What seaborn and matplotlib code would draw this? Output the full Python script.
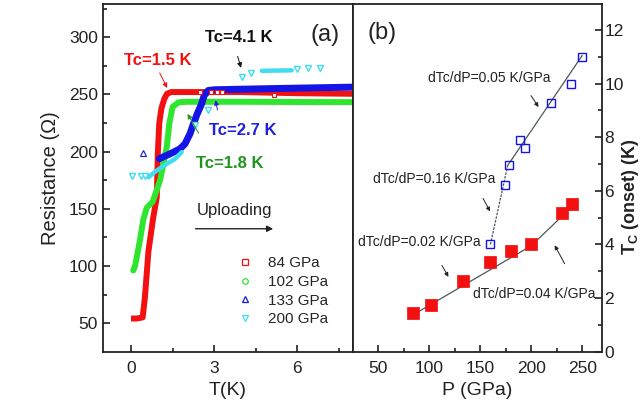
import matplotlib
matplotlib.use("Agg")
import matplotlib.pyplot as plt
import seaborn as sns
from matplotlib.lines import Line2D

# ---------------- Panel (a): resistance vs temperature ----------------
t84 = [0.0, 0.2, 0.42, 0.5, 0.63, 0.8, 0.93, 0.97, 1.02, 1.1, 1.2, 1.3, 1.45, 2.0, 4.0, 6.0, 8.0]
r84 = [54, 54, 55, 72, 113, 142, 160, 200, 225, 238, 246, 250.5, 252, 252, 252, 251, 250.5]
t84_pts = [2.5, 2.9, 3.1, 3.3, 5.16]
r84_pts = [252, 252, 252, 252, 249.5]

t102 = [0.08, 0.15, 0.32, 0.44, 0.57, 0.78, 1.05, 1.29, 1.38, 1.5, 1.71, 2.0, 4.0, 6.0, 8.0]
r102 = [96, 100.4, 122, 140, 151, 156, 175, 204, 224, 239, 243, 243.5, 243.5, 243.3, 243.2]

t133 = [1.02, 1.41, 1.77, 1.95, 2.13, 2.25, 2.39, 2.55, 2.64, 2.79, 3.0, 5.0, 8.0]
r133 = [193.7, 198, 202.4, 206.8, 215.6, 224, 233, 241.8, 249, 253.4, 254, 255, 256.3]
t133_pts = [0.44]
r133_pts = [198.6]

t200_band1 = [0.63, 0.93, 1.29, 1.59, 1.83]
r200_band1 = [177.6, 183.4, 189.2, 193.6, 199.5]
t200_band2 = [4.72, 5.8]
r200_band2 = [270.6, 271.0]
t200_pts = [0.02, 0.36, 0.5, 2.31, 2.79, 4.0, 4.32, 5.98, 6.38, 6.82]
r200_pts = [179, 179, 179, 222.8, 236, 265, 268.5, 272.4, 273, 273.2]

legend_labels = ["84 GPa", "102 GPa", "133 GPa", "200 GPa"]

# ---------------- Panel (b): Tc(onset) vs pressure ----------------
p_blue = [160, 174, 178, 189, 194, 219, 239, 249.5]
tc_blue = [4.0, 6.22, 6.97, 7.9, 7.6, 9.29, 10.0, 11.0]
p_red = [84, 102, 133, 160, 180, 200, 230, 240]
tc_red = [1.44, 1.75, 2.62, 3.34, 3.75, 4.0, 5.19, 5.5]
tc_red_err = [0.18, 0.18, 0.18, 0.18, 0.18, 0.18, 0.18, 0.18]
p_red_err = [3, 3, 3, 3, 3, 3, 3, 3]
fit_blue_dash_p = [160, 177]
fit_blue_dash_tc = [4.0, 6.95]
fit_blue_p = [177, 250]
fit_blue_tc = [6.95, 11.05]
fit_red_p = [84, 200, 244]
fit_red_tc = [1.37, 3.95, 5.56]

RED = "#f21010"
GREEN = "#2ee62e"
BLUE = "#1414e6"
CYAN = "#40dcf0"

sns.set_theme(style="ticks")
plt.rcParams["font.family"] = ["Liberation Sans", "DejaVu Sans"]
plt.rcParams["mathtext.fontset"] = "custom"
plt.rcParams["mathtext.rm"] = "Liberation Sans"
plt.rcParams["mathtext.bf"] = "Liberation Sans:bold"

fig = plt.figure(figsize=(6.4, 4.2), dpi=100)
ax1 = fig.add_axes([0.1614, 0.1626, 0.3897, 0.8279])
ax2 = fig.add_axes([0.551, 0.1626, 0.389, 0.8279])

# ---- panel (a) curves ----
sns.lineplot(x=t84, y=r84, ax=ax1, sort=False, estimator=None, color=RED, lw=4.3,
             solid_capstyle="butt")
sns.lineplot(x=t102, y=r102, ax=ax1, sort=False, estimator=None, color=GREEN, lw=4.3)
sns.lineplot(x=t133, y=r133, ax=ax1, sort=False, estimator=None, color=BLUE, lw=5)
sns.lineplot(x=t200_band1, y=r200_band1, ax=ax1, sort=False, estimator=None, color=CYAN, lw=3.2)
sns.lineplot(x=t200_band2, y=r200_band2, ax=ax1, sort=False, estimator=None, color=CYAN, lw=3.2)
ax1.plot(t84_pts, r84_pts, ls="none", marker="s", ms=3.5, mfc="white", mec=RED, mew=0.8)
ax1.plot(t133_pts, r133_pts, ls="none", marker="^", ms=4, mfc="white", mec=BLUE, mew=0.8)
ax1.plot(t200_pts, r200_pts, ls="none", marker="v", ms=4.5, mfc="white", mec=CYAN, mew=1.0)

ax1.set_xlim(-1, 8)
ax1.set_ylim(25, 329)
ax1.set_xticks([0, 3, 6])
ax1.set_xticks([1.5, 4.5, 7.5], minor=True)
ax1.set_yticks([50, 100, 150, 200, 250, 300])
ax1.set_yticks([75, 125, 175, 225, 275, 325], minor=True)
ax1.tick_params(axis="both", which="major", direction="in", length=5, width=1.2,
                labelsize=12.5, color="#222222", labelcolor="#222222")
ax1.tick_params(axis="both", which="minor", direction="in", length=3, width=1.2,
                color="#222222")
ax1.tick_params(axis="x", pad=7)
ax1.tick_params(axis="y", pad=4)
ax1.set_xlabel("T(K)", fontsize=14, color="#222222", labelpad=4)
ax1.set_ylabel("Resistance (Ω)", fontsize=14.5, color="#222222", labelpad=6)

legend_handles = [
    Line2D([], [], ls="none", marker="s", ms=4, mfc="white", mec=RED, mew=0.9),
    Line2D([], [], ls="none", marker="o", ms=4, mfc="white", mec=GREEN, mew=0.9),
    Line2D([], [], ls="none", marker="^", ms=4, mfc="white", mec=BLUE, mew=0.9),
    Line2D([], [], ls="none", marker="v", ms=4, mfc="white", mec=CYAN, mew=0.9),
]
ax1.legend(legend_handles, legend_labels, loc="upper left", bbox_to_anchor=(0.49, 0.305),
           frameon=False, fontsize=11, handlelength=1.2, handletextpad=0.9,
           labelspacing=0.3, borderpad=0.2)

# annotations panel (a)
ax1.text(7.0, 301.5, "(a)", fontsize=17, ha="center", va="center", color="#222222")
ax1.text(0.96, 280, "Tc=1.5 K", fontsize=12, fontweight="bold", color=RED,
         ha="center", va="center")
ax1.annotate("", xy=(1.35, 253.4), xytext=(0.99, 270.9),
             arrowprops=dict(arrowstyle="-|>", color=RED, lw=0.7, mutation_scale=7))
ax1.text(3.9, 300, "Tc=4.1 K", fontsize=12, fontweight="bold", color="#111111",
         ha="center", va="center")
ax1.annotate("", xy=(4.0, 270.9), xytext=(3.82, 285.5),
             arrowprops=dict(arrowstyle="-|>", color="#111111", lw=0.7, mutation_scale=7))
ax1.text(4.05, 218.4, "Tc=2.7 K", fontsize=12, fontweight="bold", color="#2020dd",
         ha="center", va="center")
ax1.annotate("", xy=(3.03, 247.3), xytext=(3.14, 234),
             arrowprops=dict(arrowstyle="-|>", color="#2020dd", lw=0.7, mutation_scale=7))
ax1.text(3.55, 189.6, "Tc=1.8 K", fontsize=12, fontweight="bold", color="#1e961e",
         ha="center", va="center")
ax1.annotate("", xy=(1.99, 235), xytext=(2.49, 214),
             arrowprops=dict(arrowstyle="-|>", color="#1e961e", lw=0.7, mutation_scale=7))
ax1.text(3.75, 148.5, "Uploading", fontsize=12, color="#222222", ha="center", va="center")
ax1.annotate("", xy=(5.23, 132.5), xytext=(2.23, 132.5),
             arrowprops=dict(arrowstyle="-|>", color="#222222", lw=1.0, mutation_scale=9))

# ---- panel (b) ----
FIT = "#4a5858"
sns.lineplot(x=fit_red_p, y=fit_red_tc, ax=ax2, sort=False, estimator=None, color=FIT, lw=0.9)
sns.lineplot(x=fit_blue_p, y=fit_blue_tc, ax=ax2, sort=False, estimator=None, color=FIT, lw=0.9)
ax2.plot(fit_blue_dash_p, fit_blue_dash_tc, color=FIT, lw=0.9, ls=(0, (2, 1)))
ax2.errorbar(p_red, tc_red, yerr=tc_red_err, xerr=p_red_err, fmt="none", ecolor=RED,
             elinewidth=1.0, capsize=3, capthick=1.0)
sns.scatterplot(x=p_red, y=tc_red, ax=ax2, marker="s", s=85, color=RED,
                edgecolor=RED, linewidth=0.5, zorder=3)
ax2.plot(p_blue, tc_blue, ls="none", marker="s", ms=5.5, mfc="none", mec=BLUE, mew=1.0)

ax2.set_xlim(25, 269)
ax2.set_ylim(0, 12.97)
ax2.set_xticks([50, 100, 150, 200, 250])
ax2.set_xticks([75, 125, 175, 225], minor=True)
ax2.set_yticks([0, 2, 4, 6, 8, 10, 12])
ax2.set_yticks([1, 3, 5, 7, 9, 11], minor=True)
ax2.yaxis.tick_right()
ax2.yaxis.set_label_position("right")
ax2.tick_params(axis="both", which="major", direction="in", length=5, width=1.2,
                labelsize=12.5, color="#222222", labelcolor="#222222")
ax2.tick_params(axis="both", which="minor", direction="in", length=3, width=1.2,
                color="#222222")
ax2.tick_params(axis="x", pad=7)
ax2.tick_params(axis="y", pad=2)
ax2.set_xlabel("P (GPa)", fontsize=14, color="#222222", labelpad=4)
ax2.set_ylabel(r"T$_\mathbf{C}$ (onset) (K)", fontsize=13, fontweight="bold",
               color="#222222", rotation=90)
ax2.yaxis.set_label_coords(1.074, 0.445)

ax2.text(53.4, 11.9, "(b)", fontsize=17, ha="center", va="center", color="#222222")
ax2.text(159.3, 10.2, "dTc/dP=0.05 K/GPa", fontsize=10, ha="center", va="center", color="#222222")
ax2.annotate("", xy=(208.7, 9.04), xytext=(198.3, 9.64),
             arrowprops=dict(arrowstyle="-|>", color="#222222", lw=0.7, mutation_scale=6))
ax2.text(104.6, 6.45, "dTc/dP=0.16 K/GPa", fontsize=10, ha="center", va="center", color="#222222")
ax2.annotate("", xy=(161, 5.14), xytext=(151.5, 5.81),
             arrowprops=dict(arrowstyle="-|>", color="#222222", lw=0.7, mutation_scale=6))
ax2.text(90, 4.09, "dTc/dP=0.02 K/GPa", fontsize=10, ha="center", va="center", color="#222222")
ax2.annotate("", xy=(120.2, 2.7), xytext=(111.2, 3.31),
             arrowprops=dict(arrowstyle="-|>", color="#222222", lw=0.7, mutation_scale=6))
ax2.text(203.2, 2.14, "dTc/dP=0.04 K/GPa", fontsize=10, ha="center", va="center", color="#222222")
ax2.annotate("", xy=(221.7, 4.06), xytext=(234.1, 3.19),
             arrowprops=dict(arrowstyle="-|>", color="#222222", lw=0.7, mutation_scale=6))

for ax in (ax1, ax2):
    for sp in ax.spines.values():
        sp.set_visible(True)
        sp.set_linewidth(1.3)
        sp.set_color("#222222")

fig.savefig("out.png", dpi=100)
